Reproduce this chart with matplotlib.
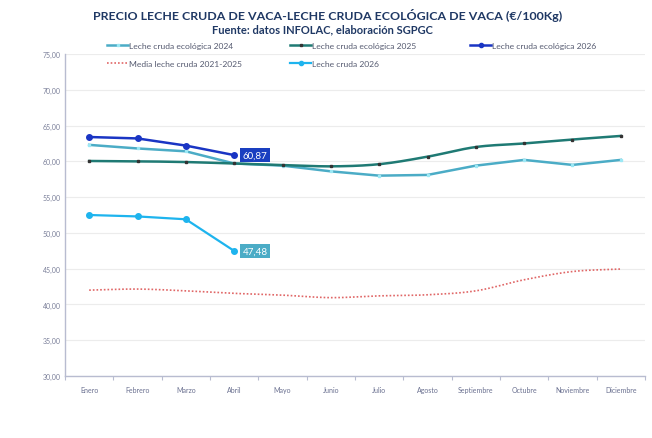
import numpy as np
import matplotlib
matplotlib.use("Agg")
import matplotlib.pyplot as plt
from matplotlib.lines import Line2D

plt.rcParams['font.family'] = ['Lato', 'DejaVu Sans']

months = ["Enero", "Febrero", "Marzo", "Abril", "Mayo", "Junio", "Julio",
          "Agosto", "Septiembre", "Octubre", "Noviembre", "Diciembre"]
eco_2024 = [62.3, 61.8, 61.4, 59.7, 59.4, 58.6, 58.0, 58.1, 59.4, 60.2, 59.5, 60.2]
eco_2025 = [60.05, 60.0, 59.9, 59.7, 59.5, 59.3, 59.6, 60.65, 62.0, 62.5, 63.05, 63.55]
eco_2026 = [63.4, 63.2, 62.2, 60.87]
media_2125 = [42.0, 42.15, 41.9, 41.55, 41.3, 40.95, 41.2, 41.35, 41.9, 43.45, 44.6, 44.95]
cruda_2026 = [52.5, 52.3, 51.9, 47.48]

yticks = [30, 35, 40, 45, 50, 55, 60, 65, 70, 75]

def catmull(xs, ys, n=20):
    xs = np.asarray(xs, float); ys = np.asarray(ys, float)
    P = np.column_stack([xs, ys])
    P = np.vstack([2 * P[0] - P[1], P, 2 * P[-1] - P[-2]])
    out = []
    for i in range(1, len(P) - 2):
        p0, p1, p2, p3 = P[i - 1], P[i], P[i + 1], P[i + 2]
        t = np.linspace(0, 1, n, endpoint=False)[:, None]
        seg = 0.5 * ((2 * p1) + (-p0 + p2) * t + (2 * p0 - 5 * p1 + 4 * p2 - p3) * t ** 2
                     + (-p0 + 3 * p1 - 3 * p2 + p3) * t ** 3)
        out.append(seg)
    out.append(P[-2][None, :])
    out = np.vstack(out)
    return out[:, 0], out[:, 1]

fig = plt.figure(figsize=(6.52, 4.39), dpi=100)
ax = fig.add_axes([65 / 652, 1 - 377 / 439, (645 - 65) / 652, (377 - 55) / 439])

x = np.arange(len(months))
c24 = '#4bacc6'
c25 = '#1f7a74'
c26 = '#1a35c4'
ccr = '#1eb4ee'
cmed = '#e06666'

ax.plot(x, eco_2024, color=c24, lw=1.8, marker='s', ms=1.6,
        mfc='#9be8f5', mec='#9be8f5', zorder=3)
xs, ys = catmull(x, eco_2025)
ax.plot(xs, ys, color=c25, lw=1.8, zorder=3)
ax.plot(x, eco_2025, ls='none', marker='s', ms=1.6, mfc='#333333', mec='#333333', zorder=4)
ax.plot(x[:4], eco_2026, color=c26, lw=1.8, marker='o', ms=4, zorder=5)
xs, ys = catmull(x, media_2125)
ax.plot(xs, ys, color=cmed, lw=1.2, ls=(0, (1, 1.2)), zorder=3)
ax.plot(x[:4], cruda_2026, color=ccr, lw=1.6, marker='o', ms=4, zorder=5)

ax.annotate("60,87", (3, eco_2026[3]), xytext=(6, 0), textcoords='offset points',
            ha='left', va='center', color='white', fontsize=7,
            bbox=dict(boxstyle='square,pad=0.25', fc='#1a3fc0', ec='none'))
ax.annotate("47,48", (3, cruda_2026[3]), xytext=(6, 0), textcoords='offset points',
            ha='left', va='center', color='white', fontsize=7,
            bbox=dict(boxstyle='square,pad=0.25', fc='#4bacc6', ec='none'))

ax.set_xlim(-0.5, 11.5)
ax.set_ylim(30, 75)
ax.set_yticks(yticks)
ax.set_yticklabels([f"{v:.2f}".replace('.', ',') for v in yticks], fontsize=5, color='#7a7f99')
ax.set_xticks(x)
ax.set_xticklabels(months, fontsize=5, color='#6a7090')
ax.set_xticks(np.arange(-0.5, 12, 1), minor=True)
ax.tick_params(axis='x', which='major', length=0, pad=7)
ax.tick_params(axis='x', which='minor', length=3, color='#b8bcd0', width=0.8)
ax.tick_params(axis='y', length=0, pad=3)
ax.grid(axis='y', color='#ececec', lw=0.8)
ax.set_axisbelow(True)
for s in ['top', 'right']:
    ax.spines[s].set_visible(False)
ax.spines['left'].set_color('#b8bcd0')
ax.spines['bottom'].set_color('#b8bcd0')
ax.spines['left'].set_linewidth(1.0)
ax.spines['bottom'].set_linewidth(1.0)

fig.text(328 / 652, 1 - 15 / 439, "PRECIO LECHE CRUDA DE VACA-LECHE CRUDA ECOLÓGICA DE VACA (€/100Kg)",
         ha='center', va='center', fontsize=8.9, fontweight='bold', color='#1f3864')
fig.text(322 / 652, 1 - 30 / 439, "Fuente: datos INFOLAC, elaboración SGPGC",
         ha='center', va='center', fontsize=8, fontweight='bold', color='#1f3864')

h24 = Line2D([], [], color=c24, lw=1.8, marker='s', ms=1.6, mfc='#9be8f5', mec='#9be8f5')
h25 = Line2D([], [], color=c25, lw=1.8, marker='s', ms=1.6, mfc='#333333', mec='#333333')
h26 = Line2D([], [], color=c26, lw=1.8, marker='o', ms=3)
hmed = Line2D([], [], color=cmed, lw=1.2, ls=(0, (1, 1.2)))
hcr = Line2D([], [], color=ccr, lw=1.6, marker='o', ms=3)

def leg(handles, labels, xpx, ypx):
    fig.legend(handles, labels, loc='upper left', bbox_to_anchor=(xpx / 652, 1 - ypx / 439),
               frameon=False, fontsize=6.1, handlelength=2.5, handletextpad=0.1,
               labelspacing=1.35, borderpad=0, borderaxespad=0, labelcolor='#555a70')

leg([h24, hmed], ["Leche cruda ecológica 2024", "Media leche cruda 2021-2025"], 107, 43)
leg([h25, hcr], ["Leche cruda ecológica 2025", "Leche cruda 2026"], 290, 43)
leg([h26], ["Leche cruda ecológica 2026"], 470, 43)

fig.savefig("out.png", dpi=100)
